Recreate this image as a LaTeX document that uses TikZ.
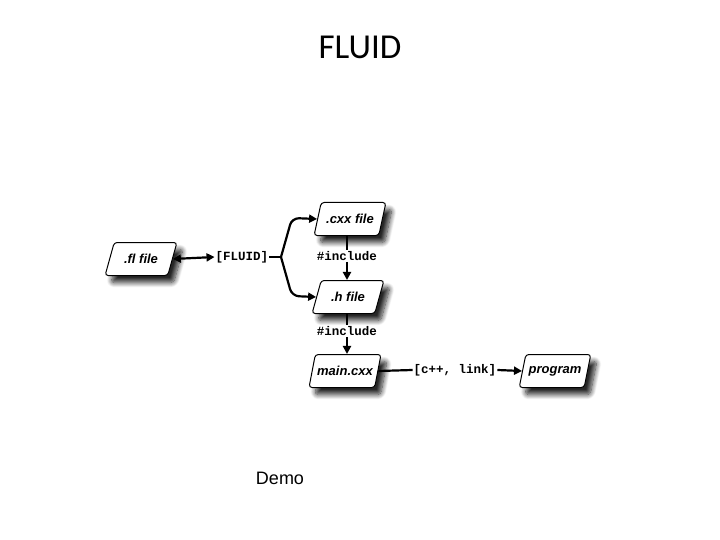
\documentclass[tikz,border=0pt]{standalone}
\usepackage{fontspec}
\setmainfont{Liberation Sans}
\newfontfamily\titlefont{Carlito}
\newfontfamily\codefont{Liberation Mono}
\usetikzlibrary{shapes.geometric,arrows.meta,shadows.blur}
\begin{document}
\begin{tikzpicture}[x=1pt,y=-1pt,
  filebox/.style={trapezium, trapezium left angle=62, trapezium right angle=118,
    trapezium stretches=true, minimum width=72pt, minimum height=33pt,
    draw=black, line width=1pt, fill=white, rounded corners=3pt, inner sep=1pt,
    font=\fontsize{13}{14}\selectfont\bfseries\itshape,
    blur shadow={shadow xshift=6pt, shadow yshift=-7pt, shadow blur steps=10,
      shadow blur radius=5pt, shadow opacity=85}},
  code/.style={font=\codefont\bfseries\fontsize{12.5}{14}\selectfont, inner sep=1pt},
  conn/.style={line width=2.2pt, black},
  arr/.style={conn, -{Triangle[length=8pt,width=8pt]}},
  darr/.style={conn, {Triangle[length=8pt,width=8pt]}-{Triangle[length=8pt,width=8pt]}}]
\useasboundingbox (0,0) rectangle (720,540);
\node[font=\titlefont\fontsize{35}{40}\selectfont] (title) at (360,47) {FLUID};
\node[font=\fontsize{18}{20}\selectfont] (demo) at (280,478) {Demo};

\node[filebox] (fl) at (141,259) {.fl file};
\node[filebox] (cxx) at (350,219) {.cxx file};
\node[filebox] (h) at (348,297) {.h file};
\node[filebox] (main) at (345,371) {main.cxx};
\node[filebox] (prog) at (555,371) {program};

\node[code] (fluid) at (242,257) {[FLUID]};
\node[code] (inc1) at (347,256) {\#include};
\node[code] (inc2) at (347,331) {\#include};
\node[code] (link) at (455,370) {[c++, link]};

\coordinate (br) at (281,257);
\coordinate (bt) at (292,218);
\coordinate (bb) at (292,296);

\draw[darr] (fl.east) -- (fluid.west);
\draw[conn] (fluid.east) -- (br);
\draw[arr, rounded corners=7pt] (br) -- (bt) -- (cxx.west);
\draw[arr, rounded corners=7pt] (br) -- (bb) -- (h.west);
\draw[conn] (cxx.south -| inc1) -- (inc1.north);
\draw[arr] (inc1.south) -- (inc1.south |- h.north);
\draw[conn] (h.south -| inc2) -- (inc2.north);
\draw[arr] (inc2.south) -- (inc2.south |- main.north);
\draw[conn] (main.east) -- (link.west);
\draw[arr] (link.east) -- (prog.west);
\end{tikzpicture}
\end{document}
